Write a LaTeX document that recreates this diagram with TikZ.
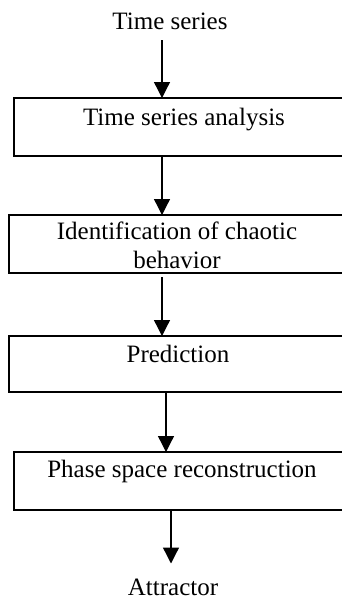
\documentclass[tikz,border=0pt]{standalone}
\usepackage{fontspec}
\setmainfont{Liberation Serif}
\usetikzlibrary{arrows.meta}
\begin{document}
\begin{tikzpicture}[x=1pt,y=-1pt,
  stage/.style={draw=black, line width=1.4pt, rectangle, inner sep=0pt, outer sep=0pt},
  lbl/.style={inner sep=0pt, outer sep=0pt, font=\fontsize{25}{29}\selectfont, align=center},
  flow/.style={line width=1.3pt, -{Triangle[width=16pt,length=16pt]}}]
\useasboundingbox (0,0) rectangle (342,600);
\clip (0,0) rectangle (342,600);
% boxes
\node[stage, minimum width=340pt, minimum height=58pt] (b1) at (184,127) {};
\node[stage, minimum width=336pt, minimum height=58pt] (b2) at (177,244) {};
\node[stage, minimum width=338pt, minimum height=56pt] (b3) at (178,364) {};
\node[stage, minimum width=336pt, minimum height=58pt] (b4) at (182,481) {};
% texts
\node[lbl, anchor=base] (t0) at (170,29) {Time series};
\node[lbl, anchor=base] (t1) at (184,125) {Time series analysis};
\node[lbl, anchor=base] (t2) at (177,268.5) {Identification of chaotic\\behavior};
\node[lbl, anchor=base] (t3) at (178,362) {Prediction};
\node[lbl, anchor=base] (t4) at (182,477) {Phase space reconstruction};
\node[lbl, anchor=base] (t5) at (173,595) {Attractor};
% arrow columns
\coordinate (x1) at (162,0);
\coordinate (x4) at (166,0);
\coordinate (x5) at (171,0);
% connectors
\draw[flow, shorten <=11pt] (t0.south -| x1) -- (b1.north -| x1);
\draw[flow] (b1.south -| x1) -- (b2.north -| x1);
\draw[flow, shorten <=4pt] (b2.south -| x1) -- (b3.north -| x1);
\draw[flow] (b3.south -| x4) -- (b4.north -| x4);
\draw[flow, shorten >=15pt] (b4.south -| x5) -- (t5.north -| x5);
\end{tikzpicture}
\end{document}
